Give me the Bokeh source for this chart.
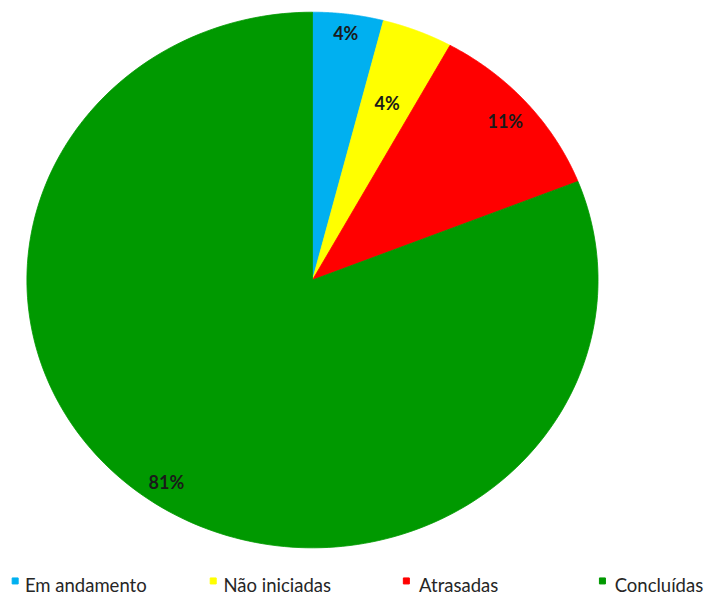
import numpy as np
from bokeh.plotting import figure
from bokeh.models import Range1d, ColumnDataSource
from bokeh.core.properties import value
from bokeh.embed import file_html
from bokeh.resources import INLINE

# ---- data ----
categories = ["Em andamento", "Não iniciadas", "Atrasadas", "Concluídas"]
percentages = [4, 4, 11, 81]
labels = ["4%", "4%", "11%", "81%"]
colors = ["#00B0F0", "#FFFF00", "#FF0000", "#009900"]

# ---- layout (in reference-picture pixels, mapped to the figure) ----
W, H = 710, 597
SX, SY = W / 726, H / 613
CX, CY = 319 * SX, H - 287 * SY
RX, RY = 292 * SX, 275 * SY
label_radius = [0.93, 0.71, 0.90, 0.91]
legend_sq_x = [15, 217.5, 415, 615.5]
legend_tx_x = [25, 228, 428, 628]
legend_sq_y = 596
legend_tx_y = 600

p = figure(width=W, height=H, x_range=Range1d(0, W), y_range=Range1d(0, H),
           output_backend="svg", toolbar_location=None, min_border=0,
           x_axis_type=None, y_axis_type=None)
p.grid.visible = False
p.outline_line_color = None
p.background_fill_color = "white"

vals = np.array(percentages, dtype=float)
frac = vals / vals.sum()
ends = np.cumsum(frac)
starts = ends - frac

xs, ys = [], []
for s, e in zip(starts, ends):
    t = np.linspace(s, e, 200)
    ang = np.pi / 2 - 2 * np.pi * t
    xs.append(np.concatenate([[CX], CX + RX * np.cos(ang), [CX]]))
    ys.append(np.concatenate([[CY], CY + RY * np.sin(ang), [CY]]))

src = ColumnDataSource(dict(xs=xs, ys=ys, color=colors, cat=categories))
p.patches("xs", "ys", source=src, fill_color="color", line_color="color", line_width=0.8)

mid = (starts + ends) / 2
mang = np.pi / 2 - 2 * np.pi * mid
lr = np.array(label_radius)
lx = CX + RX * lr * np.cos(mang)
ly = CY + RY * lr * np.sin(mang)
p.text(x=lx, y=ly, text=labels, text_align="center", text_baseline="middle",
       text_font=value("Lato"), text_font_style="bold", text_font_size="18px",
       text_color="#1a1a1a")

# legend
p.scatter(x=[v * SX for v in legend_sq_x], y=[H - legend_sq_y * SY] * 4,
          marker="square", size=6, fill_color=colors, line_color=colors)
p.text(x=[v * SX for v in legend_tx_x], y=[H - legend_tx_y * SY] * 4, text=categories,
       text_align="left", text_baseline="alphabetic", text_font=value("Lato"),
       text_font_size="18.5px", text_color="#262626")

open("out.html", "w").write(file_html(p, INLINE))
